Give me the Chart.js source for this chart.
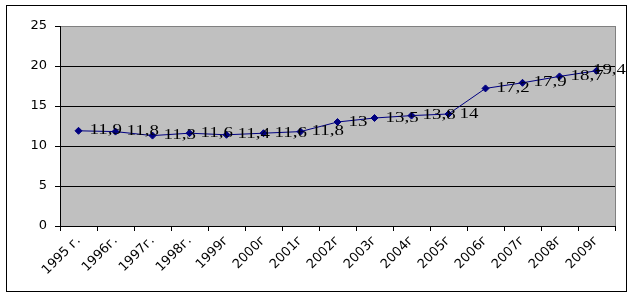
<!DOCTYPE html>
<html>
<head>
<meta charset="utf-8">
<script src="https://cdn.jsdelivr.net/npm/chart.js@4"></script>
<style>
  html, body { margin: 0; padding: 0; background: #fff; }
  #wrap { width: 634px; height: 296px; }
</style>
</head>
<body>
<div id="wrap"><canvas id="chart" width="634" height="296"></canvas></div>
<script>
const years = ['1995 г.', '1996г.', '1997г.', '1998г.', '1999г', '2000г', '2001г', '2002г',
    '2003г', '2004г', '2005г', '2006г', '2007г', '2008г', '2009г'];
const values = [11.9, 11.8, 11.3, 11.6, 11.4, 11.6, 11.8, 13, 13.5, 13.8, 14, 17.2, 17.9, 18.7, 19.4];
const yTicks = [0, 5, 10, 15, 20, 25];

// plot background, outer frame, right border
const frame = {
    id: 'frame',
    beforeDraw(chart) {
        const c = chart.ctx, a = chart.chartArea;
        c.save();
        c.fillStyle = '#c0c0c0';
        c.fillRect(a.left, a.top, a.right - a.left, a.bottom - a.top);
        c.restore();
    },
    afterDraw(chart) {
        const c = chart.ctx, a = chart.chartArea;
        c.save();
        c.strokeStyle = '#808080';
        c.lineWidth = 1;
        c.beginPath();
        c.moveTo(Math.round(a.right) + 0.5, a.top);
        c.lineTo(Math.round(a.right) + 0.5, a.bottom);
        c.stroke();
        c.strokeStyle = '#000';
        c.strokeRect(6.5, 5.5, 620, 286);
        c.restore();
    }
};

// value labels to the right of each point (wide serif, like the original)
const valueLabels = {
    id: 'valueLabels',
    afterDatasetsDraw(chart) {
        const c = chart.ctx;
        const meta = chart.getDatasetMeta(0);
        const sx = 1.35;
        c.save();
        c.fillStyle = '#000';
        c.font = '14px "Liberation Serif"';
        c.textBaseline = 'middle';
        meta.data.forEach((pt, i) => {
            const txt = String(values[i]).replace('.', ',');
            const w = c.measureText(txt).width * sx;
            let x = pt.x + 11;
            if (x + w > 626) x = 626 - w;
            c.save();
            c.translate(x, pt.y);
            c.scale(sx, 1);
            c.fillText(txt, 0, 0);
            c.restore();
        });
        c.restore();
    }
};

new Chart(document.getElementById('chart'), {
    type: 'line',
    data: {
        labels: years,
        datasets: [{
            data: values,
            borderColor: '#000080',
            backgroundColor: '#000080',
            borderWidth: 1,
            pointStyle: 'rectRot',
            pointRadius: 3.5,
            pointBorderWidth: 1,
            tension: 0
        }]
    },
    options: {
        responsive: false,
        animation: false,
        layout: { padding: { left: 6, top: 26, right: 19, bottom: 5 } },
        plugins: { legend: { display: false }, tooltip: { enabled: false } },
        scales: {
            x: {
                offset: true,
                grid: { offset: true, drawOnChartArea: false, color: '#000', tickLength: 5 },
                border: { color: '#000' },
                ticks: {
                    color: '#000',
                    font: { family: 'DejaVu Sans', size: 13 },
                    maxRotation: 45, minRotation: 45,
                    autoSkip: false, padding: 2
                },
                afterFit(scale) { scale.height = 65; }
            },
            y: {
                min: 0, max: 25,
                afterBuildTicks(scale) { scale.ticks = yTicks.map(v => ({ value: v })); },
                grid: {
                    color: ctx => ctx.tick && ctx.tick.value === 25 ? '#808080' : '#000',
                    tickColor: '#000',
                    tickLength: 5
                },
                border: { color: '#000' },
                ticks: {
                    color: '#000',
                    font: { family: 'DejaVu Sans', size: 13 },
                    padding: 8
                },
                afterFit(scale) { scale.width = 54; }
            }
        }
    },
    plugins: [frame, valueLabels]
});
</script>
</body>
</html>
